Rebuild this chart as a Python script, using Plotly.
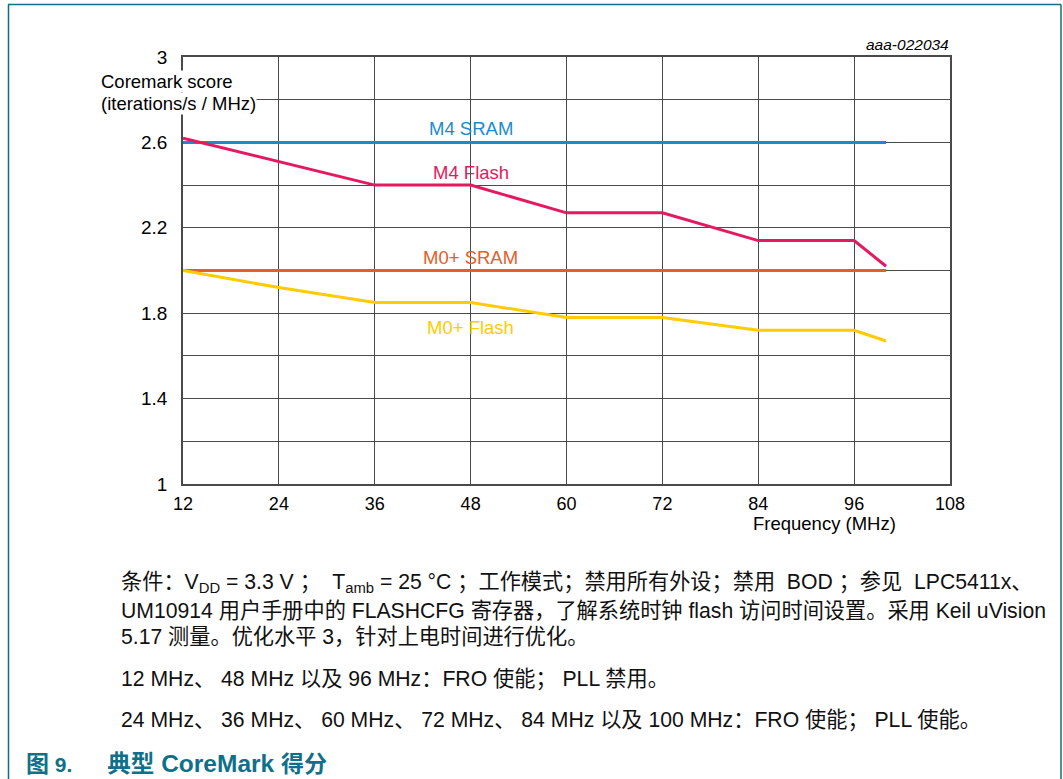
import plotly.graph_objects as go

# Frequency points (MHz)
freq = [12, 24, 36, 48, 60, 72, 84, 96, 100]

# CoreMark score (iterations/s / MHz)
m4_sram = [2.6, 2.6, 2.6, 2.6, 2.6, 2.6, 2.6, 2.6, 2.6]
m4_flash = [2.62, 2.51, 2.40, 2.40, 2.27, 2.27, 2.14, 2.14, 2.02]
m0_sram = [2.0, 2.0, 2.0, 2.0, 2.0, 2.0, 2.0, 2.0, 2.0]
m0_flash = [2.0, 1.92, 1.85, 1.85, 1.78, 1.78, 1.72, 1.72, 1.67]

series_names = ["M4 SRAM", "M4 Flash", "M0+ SRAM", "M0+ Flash"]
series_colors = ["#1B8BCB", "#E5195E", "#E0612A", "#FFCC00"]
series_values = [m4_sram, m4_flash, m0_sram, m0_flash]
# label centre (frequency, score) for each series name
label_pos = [(48, 2.663), (48, 2.461), (48, 2.063), (48, 1.731)]

x_ticks = [12, 24, 36, 48, 60, 72, 84, 96, 108]
y_ticks = [1, 1.4, 1.8, 2.2, 2.6, 3]
y_tick_text = ["1", "1.4", "1.8", "2.2", "2.6", "3"]

W, H = 1063, 779
L, R, T, B = 183, 950, 57, 484
FONT = "Liberation Sans, Arial, Noto Sans CJK SC, sans-serif"


def px(x):
    return (x - L) / (R - L)


def py(y):
    return (B - y) / (B - T)


def sized(s, size):
    return f'<span style="font-size:{size}px">{s}</span>'


fig = go.Figure()
for name, color, vals in zip(series_names, series_colors, series_values):
    fig.add_trace(go.Scatter(x=freq, y=vals, mode="lines", name=name,
                             line=dict(color=color, width=3),
                             hoverinfo="x+y+name"))

annotations = []
for name, color, (lx, ly) in zip(series_names, series_colors, label_pos):
    annotations.append(dict(x=lx, y=ly, xref="x", yref="y", text=name,
                            showarrow=False, xanchor="center", yanchor="middle",
                            font=dict(family=FONT, size=18.5, color=color)))

# y-axis title drawn in the upper-left corner over the grid
for yy, txt in [(82, "Coremark score"), (103, "(iterations/s / MHz)")]:
    annotations.append(dict(x=px(100), y=py(yy), xref="paper", yref="paper",
                            text=txt, showarrow=False, xanchor="left",
                            yanchor="middle", bgcolor="white", borderpad=0,
                            font=dict(family=FONT, size=18.5, color="black")))
annotations.append(dict(x=px(898), y=py(523), xref="paper", yref="paper",
                        text="Frequency (MHz)", showarrow=False,
                        xanchor="right", yanchor="middle",
                        font=dict(family=FONT, size=18.5, color="black")))
annotations.append(dict(x=px(951), y=py(45), xref="paper", yref="paper",
                        text="<i>aaa-022034</i>", showarrow=False,
                        xanchor="right", yanchor="middle",
                        font=dict(family=FONT, size=15.5, color="black")))

caption_lines = [
    (583, "条件：V<sub>DD</sub> = 3.3 V ；  T<sub>amb</sub> = 25 °C ；工作模式；禁用所有外设；禁用  BOD ；参见  LPC5411x、"),
    (610, "UM10914 用户手册中的 FLASHCFG 寄存器，了解系统时钟 flash 访问时间设置。采用 Keil uVision"),
    (636, "5.17 测量。优化水平 3，针对上电时间进行优化。"),
    (679, "12 MHz、 48 MHz 以及 96 MHz：FRO 使能； PLL 禁用。"),
    (720, "24 MHz、 36 MHz、 60 MHz、 72 MHz、 84 MHz 以及 100 MHz：FRO 使能； PLL 使能。"),
]
for yy, txt in caption_lines:
    annotations.append(dict(x=px(119), y=py(yy), xref="paper", yref="paper",
                            text=txt, showarrow=False, xanchor="left",
                            yanchor="middle", align="left",
                            font=dict(family=FONT, size=21.2, color="#111")))

title_text = ("<b>" + sized("图", 23) + sized(" 9.      ", 21) + sized("典型", 23.5)
              + sized(" CoreMark ", 24.5) + sized("得分", 23) + "</b>")
annotations.append(dict(x=px(24), y=py(763), xref="paper", yref="paper",
                        text=title_text,
                        showarrow=False, xanchor="left", yanchor="middle",
                        font=dict(family=FONT, size=21, color="#0F7189")))

# outer frame of the figure panel
frame_color = "#0F6E85"
shapes = [
    dict(type="line", xref="paper", yref="paper", x0=px(8), x1=px(1061),
         y0=py(4.5), y1=py(4.5), line=dict(color=frame_color, width=1.5)),
    dict(type="line", xref="paper", yref="paper", x0=px(8.5), x1=px(8.5),
         y0=py(4.5), y1=py(779), line=dict(color=frame_color, width=1.5)),
    dict(type="line", xref="paper", yref="paper", x0=px(1061), x1=px(1061),
         y0=py(4.5), y1=py(779), line=dict(color=frame_color, width=1.5)),
]

grid = "#4a4a4a"
fig.update_layout(
    width=W, height=H,
    margin=dict(l=L, r=W - R, t=T, b=H - B),
    paper_bgcolor="white", plot_bgcolor="white",
    showlegend=False,
    annotations=annotations,
    shapes=shapes,
    xaxis=dict(range=[12, 108], tickvals=x_ticks, ticktext=[str(v) for v in x_ticks],
               showgrid=True, gridcolor=grid, gridwidth=1,
               showline=True, linecolor=grid, linewidth=1.5, mirror=True,
               ticks="", zeroline=False, ticklabelstandoff=3,
               tickfont=dict(family=FONT, size=18, color="black")),
    yaxis=dict(range=[1, 3], tickvals=y_ticks, ticktext=y_tick_text,
               showgrid=True, gridcolor=grid, gridwidth=1,
               minor=dict(dtick=0.2, tick0=1, showgrid=True, gridcolor=grid, gridwidth=1),
               showline=True, linecolor=grid, linewidth=1.5, mirror=True,
               ticks="", zeroline=False, ticklabelstandoff=10,
               tickfont=dict(family=FONT, size=19, color="black")),
)

fig.write_html("out.html")
